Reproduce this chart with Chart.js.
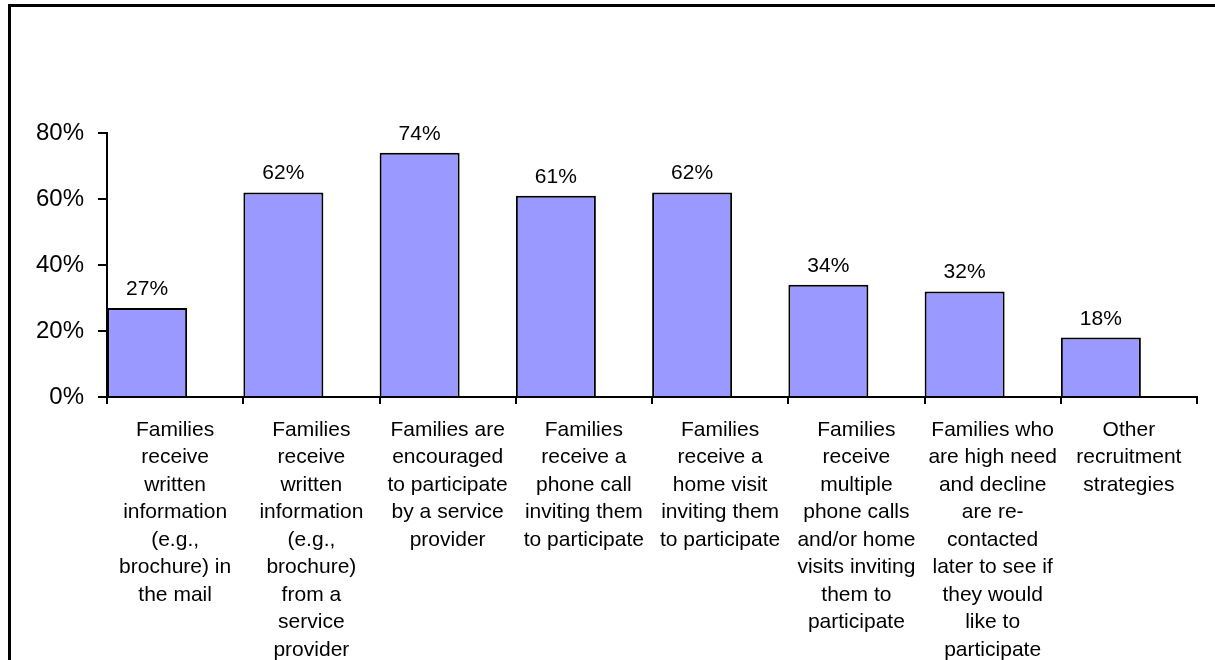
<!DOCTYPE html>
<html>
<head>
<meta charset="utf-8">
<script src="https://cdn.jsdelivr.net/npm/chart.js@4/dist/chart.umd.min.js"></script>
<style>
  html, body { margin: 0; padding: 0; background: #fff; overflow: hidden; }
  #wrap { position: relative; width: 1215px; height: 660px; }
  #frame { position: absolute; left: 8px; top: 4px; width: 1230px; height: 680px; border: 3px solid #000; box-sizing: border-box; }
  #chart { position: absolute; left: 0; top: 0; }
</style>
</head>
<body>
<div id="wrap">
  <div id="frame"></div>
  <canvas id="chart" width="1215" height="660"></canvas>
</div>
<script>
// category labels, already broken into lines as in the original
const categories = [
  ['Families', 'receive', 'written', 'information', '(e.g.,', 'brochure) in', 'the mail'],
  ['Families', 'receive', 'written', 'information', '(e.g.,', 'brochure)', 'from a', 'service', 'provider'],
  ['Families are', 'encouraged', 'to participate', 'by a service', 'provider'],
  ['Families', 'receive a', 'phone call', 'inviting them', 'to participate'],
  ['Families', 'receive a', 'home visit', 'inviting them', 'to participate'],
  ['Families', 'receive', 'multiple', 'phone calls', 'and/or home', 'visits inviting', 'them to', 'participate'],
  ['Families who', 'are high need', 'and decline', 'are re-', 'contacted', 'later to see if', 'they would', 'like to', 'participate'],
  ['Other', 'recruitment', 'strategies']
];

// percent of programs using each strategy
const shares = [27, 62, 74, 61, 62, 34, 32, 18];

// y axis
const yMin = 0;
const yMax = 80;
const yStep = 20;

const FONT = "'Liberation Sans', Arial, sans-serif";

// draws the value above each bar
const valueLabels = {
  id: 'valueLabels',
  afterDatasetsDraw(chart) {
    const ctx = chart.ctx;
    const meta = chart.getDatasetMeta(0);
    ctx.save();
    ctx.font = '21px ' + FONT;
    ctx.fillStyle = '#000';
    ctx.textAlign = 'center';
    ctx.textBaseline = 'alphabetic';
    meta.data.forEach((bar, i) => {
      ctx.fillText(shares[i] + '%', bar.x, bar.y - 13);
    });
    ctx.restore();
  }
};

new Chart(document.getElementById('chart'), {
  type: 'bar',
  data: {
    labels: categories,
    datasets: [
      {
        label: 'Share',
        data: shares,
        backgroundColor: '#9999FF',
        borderColor: '#000',
        borderWidth: 2,
        categoryPercentage: 0.822,
        barPercentage: 1.4286
      },
      {
        // empty second series, keeps bars to the left of each category like the original
        label: '',
        data: [],
        categoryPercentage: 0.822,
        barPercentage: 1.4286
      }
    ]
  },
  options: {
    responsive: false,
    devicePixelRatio: 1,
    animation: false,
    layout: { padding: { left: 0, top: 133, right: 18, bottom: 0 } },
    plugins: {
      legend: { display: false },
      tooltip: { enabled: false }
    },
    scales: {
      x: {
        grid: {
          display: true,
          drawOnChartArea: false,
          drawTicks: true,
          tickLength: 7,
          color: '#000',
          lineWidth: 2,
          offset: true
        },
        border: { display: true, color: '#000', width: 2 },
        ticks: {
          autoSkip: false,
          maxRotation: 0,
          minRotation: 0,
          padding: 12,
          color: '#000',
          font: { family: FONT, size: 21, lineHeight: 1.31 }
        },
        afterFit(scale) { scale.height = 263; }
      },
      y: {
        min: yMin,
        max: yMax,
        grid: {
          display: true,
          drawOnChartArea: false,
          drawTicks: true,
          tickLength: 9,
          color: '#000',
          lineWidth: 2
        },
        border: { display: true, color: '#000', width: 2 },
        ticks: {
          stepSize: yStep,
          padding: 14,
          color: '#000',
          font: { family: FONT, size: 24 },
          callback: v => v + '%'
        },
        afterFit(scale) { scale.width = 107; }
      }
    }
  },
  plugins: [valueLabels]
});
</script>
</body>
</html>
